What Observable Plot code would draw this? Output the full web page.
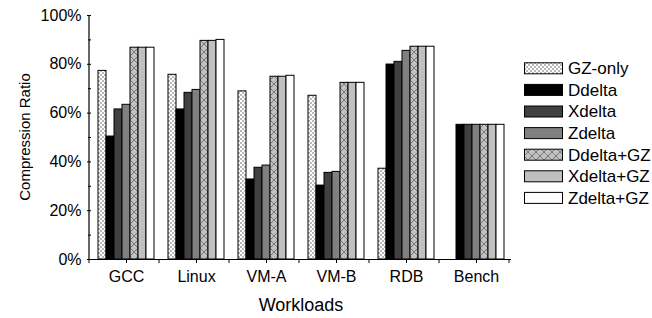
<!DOCTYPE html>
<html><head><meta charset="utf-8">
<script src="https://cdn.jsdelivr.net/npm/d3@7"></script>
<script src="https://cdn.jsdelivr.net/npm/@observablehq/plot@0.6"></script>
<style>
body{margin:0;background:#fff}
svg{font-family:"Liberation Sans",Arial,sans-serif}
</style>
</head><body><div id="chart"></div>
<script>
const workloads = ["GCC", "Linux", "VM-A", "VM-B", "RDB", "Bench"];
const series = ["GZ-only", "Ddelta", "Xdelta", "Zdelta", "Ddelta+GZ", "Xdelta+GZ", "Zdelta+GZ"];
const gzOnly   = [77.3, 75.7, 68.9, 67.1, 37.2, 0];
const ddelta   = [50.4, 61.5, 32.8, 30.3, 79.9, 55.2];
const xdelta   = [61.5, 68.3, 37.6, 35.5, 81.0, 55.2];
const zdelta   = [63.4, 69.5, 38.5, 35.9, 85.5, 55.2];
const ddeltaGz = [86.8, 89.6, 74.9, 72.4, 87.2, 55.2];
const xdeltaGz = [86.8, 89.6, 74.9, 72.4, 87.2, 55.2];
const zdeltaGz = [86.8, 90.0, 75.3, 72.4, 87.2, 55.2];
const yTicks = [0, 20, 40, 60, 80, 100];
const yMinorTicks = [10, 30, 50, 70, 90];
const fills = ["url(#pGz)", "#000000", "#404040", "#808080", "url(#pDgz)", "#c0c0c0", "#ffffff"];

const valuesBySeries = [gzOnly, ddelta, xdelta, zdelta, ddeltaGz, xdeltaGz, zdeltaGz];
const data = workloads.flatMap((w, i) => series.map((s, j) => ({workload: w, series: s, value: valuesBySeries[j][i]})));

const chart = Plot.plot({
  width: 652, height: 318,
  marginLeft: 89, marginRight: 139, marginTop: 15, marginBottom: 59,
  style: {fontFamily: "'Liberation Sans', Arial, sans-serif", fontSize: "16px", color: "#000", background: "#fff"},
  fx: {domain: workloads, padding: 0, label: null, axis: null},
  x: {domain: series, paddingInner: 0, paddingOuter: 0.81, axis: null},
  y: {domain: [0, 100], axis: null},
  color: {domain: series, range: fills},
  marks: [
    Plot.barY(data, {fx: "workload", x: "series", y: "value", fill: "series", stroke: "#000", strokeWidth: 1}),
    Plot.ruleY([0], {stroke: "#000", strokeWidth: 1.2}),
    Plot.axisY({ticks: yTicks, tickFormat: d => d + "%", tickSize: 4, tickPadding: 6, fontSize: 16, label: null}),
    Plot.axisY({ticks: yMinorTicks, tickFormat: () => "", tickSize: 3, label: null}),
    Plot.axisFx({anchor: "bottom", tickSize: 4, tickPadding: 7, fontSize: 16, label: null})
  ]
});
document.getElementById("chart").appendChild(chart);

const svg = d3.select(chart);
const defs = svg.insert("defs", ":first-child");
// GZ-only fine checker pattern
const p1 = defs.append("pattern").attr("id", "pGz").attr("patternUnits", "userSpaceOnUse").attr("width", 4).attr("height", 4);
p1.append("rect").attr("width", 4).attr("height", 4).attr("fill", "#ffffff");
p1.append("rect").attr("width", 2).attr("height", 2).attr("fill", "#b8b8b8");
p1.append("rect").attr("x", 2).attr("y", 2).attr("width", 2).attr("height", 2).attr("fill", "#b8b8b8");
// Ddelta+GZ crosshatch on grey
const p2 = defs.append("pattern").attr("id", "pDgz").attr("patternUnits", "userSpaceOnUse").attr("width", 8).attr("height", 8);
p2.append("rect").attr("width", 8).attr("height", 8).attr("fill", "#c4c4c4");
for (let i = 0; i < 8; i += 2) for (let j = (i / 2) % 2 * 2; j < 8; j += 4)
  p2.append("rect").attr("x", j).attr("y", i).attr("width", 1).attr("height", 1).attr("fill", "#a8a8a8");
p2.append("path").attr("d", "M0,0L8,8M8,0L0,8").attr("stroke", "#707070").attr("stroke-width", 0.9).attr("fill", "none");

const fx = chart.scale("fx");
const y = chart.scale("y");
const x0 = fx.range[0], x1 = fx.range[1];
const yBase = y.apply(0), yTop = y.apply(100);
// y axis line
svg.append("line").attr("x1", x0).attr("x2", x0).attr("y1", yTop).attr("y2", yBase)
  .attr("stroke", "#000").attr("stroke-width", 1.2);
// boundary ticks between workload groups
workloads.concat([null]).forEach((w, i) => {
  const bx = x0 + i * fx.step;
  svg.append("line").attr("x1", bx).attr("x2", bx).attr("y1", yBase).attr("y2", yBase + 4)
    .attr("stroke", "#000");
});
// axis titles
svg.append("text").attr("transform", `translate(25,${(yTop + yBase) / 2}) rotate(-90)`)
  .attr("text-anchor", "middle").attr("dy", "0.35em").attr("font-size", 15).attr("fill", "#000")
  .text("Compression Ratio");
svg.append("text").attr("x", (x0 + x1) / 2).attr("y", 305).attr("dy", "0.35em")
  .attr("text-anchor", "middle").attr("font-size", 18).attr("fill", "#000").text("Workloads");
// legend
const lg = svg.append("g").attr("text-anchor", "start");
series.forEach((s, i) => {
  const cy = 68.3 + i * 21.6;
  lg.append("rect").attr("x", 524.5).attr("y", cy - 5.5).attr("width", 38).attr("height", 11)
    .attr("fill", fills[i]).attr("stroke", "#000").attr("stroke-width", 1);
  lg.append("text").attr("x", 568).attr("y", cy).attr("dy", "0.35em").attr("font-size", 17)
    .attr("text-anchor", "start").attr("fill", "#000").text(s);
});
</script>
</body></html>
